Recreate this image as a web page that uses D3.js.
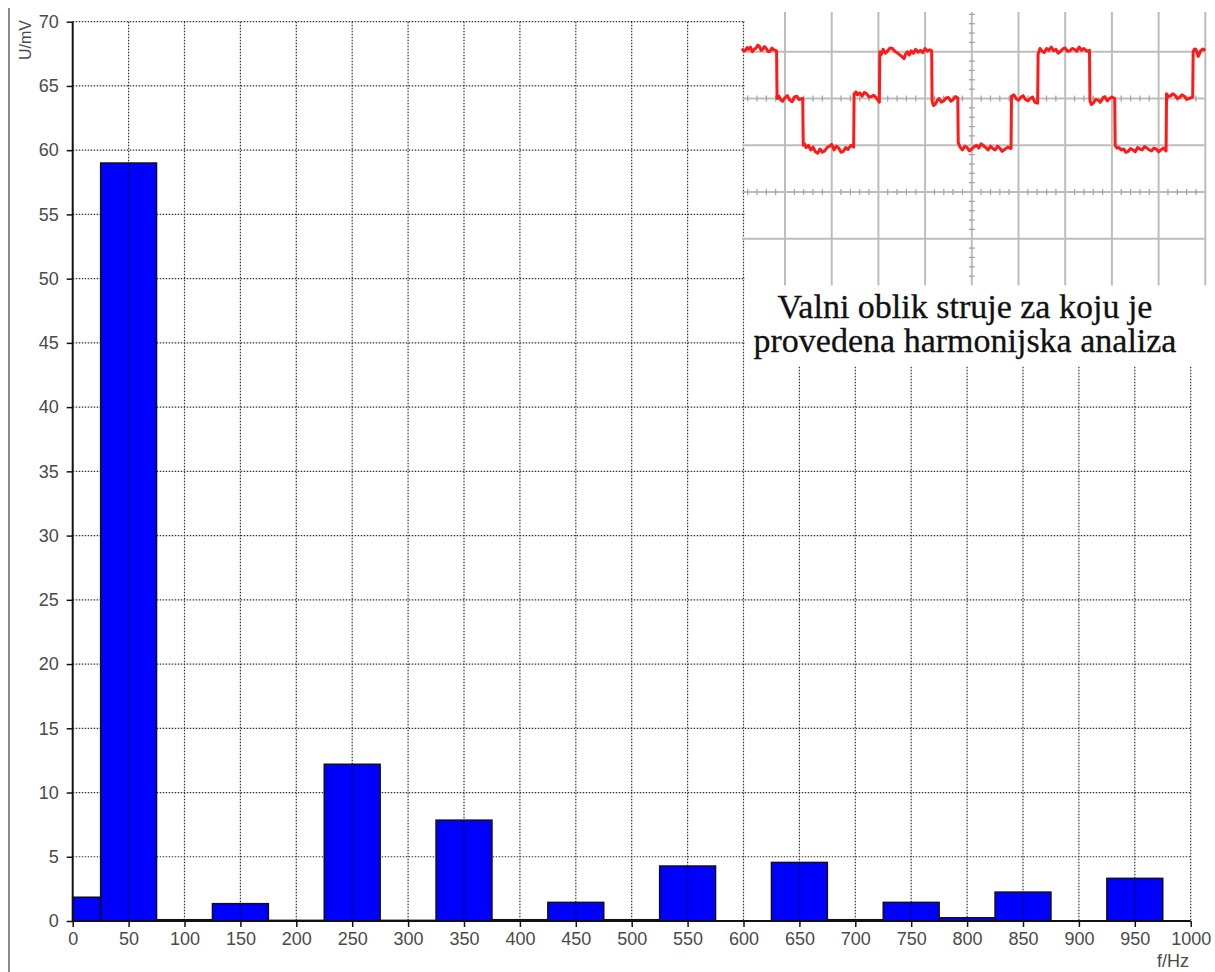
<!DOCTYPE html>
<html><head><meta charset="utf-8">
<script src="https://cdn.jsdelivr.net/npm/d3@7/dist/d3.min.js"></script>
<style>body{margin:0;background:#fff}svg{display:block}</style>
</head><body>
<svg id="chart" width="1215" height="972"></svg>
<script>
// ---- data ----
const freqs = [0,50,100,150,200,250,300,350,400,450,500,550,600,650,700,750,800,850,900,950,1000];
const amps  = [1.85,59.0,0.1,1.35,0.05,12.2,0.05,7.85,0.1,1.45,0.1,4.28,0,4.56,0.1,1.45,0.25,2.25,0,3.32,0];
const xTicks = [0,50,100,150,200,250,300,350,400,450,500,550,600,650,700,750,800,850,900,950,1000];
const yTicks = [0,5,10,15,20,25,30,35,40,45,50,55,60,65,70];
const xLabel = "f/Hz";
const yLabel = "U/mV";
const insetText = ["Valni oblik struje za koju je", "provedena harmonijska analiza"];
// oscilloscope trace readings: [time in divisions, level in divisions from top]
const scopeTrace = [
 [0.08,0.93],[0.12,0.99],[0.15,0.97],[0.19,0.91],[0.22,0.95],[0.26,0.9],[0.3,1.0],[0.34,0.95],[0.38,0.92],[0.42,0.86],[0.45,0.88],[0.49,0.97],[0.52,0.95],[0.56,0.89],[0.6,0.93],[0.64,1.0],[0.68,0.99],[0.72,0.92],[0.76,0.96],[0.82,0.98],
 [0.83,2.0],[0.87,1.95],[0.9,2.02],[0.95,2.06],[1.0,1.98],[1.05,1.94],[1.1,2.03],[1.15,2.07],[1.2,1.97],[1.25,1.95],[1.3,2.02],[1.38,2.0],
 [1.39,3.0],[1.42,2.97],[1.45,3.05],[1.5,3.0],[1.55,3.1],[1.6,3.04],[1.65,3.14],[1.7,3.17],[1.75,3.08],[1.8,3.15],[1.85,3.12],[1.9,3.05],[1.95,3.02],[2.0,2.98],[2.05,3.1],[2.1,3.02],[2.15,3.06],[2.2,3.15],[2.25,3.13],[2.3,3.05],[2.35,3.09],[2.41,3.0],[2.47,3.04],
 [2.48,1.9],[2.52,1.86],[2.55,1.92],[2.6,1.88],[2.65,1.95],[2.7,1.87],[2.75,1.9],[2.8,1.97],[2.85,1.96],[2.9,1.93],[2.95,1.98],[3.0,2.05],[3.02,2.08],
 [3.03,1.0],[3.06,1.06],[3.1,0.95],[3.15,1.03],[3.2,0.98],[3.25,0.92],[3.3,0.93],[3.35,0.99],[3.4,1.02],[3.45,1.06],[3.5,1.1],[3.55,1.15],[3.58,1.05],[3.62,1.0],[3.66,1.07],[3.7,0.98],[3.75,1.03],[3.8,0.95],[3.85,1.01],[3.9,0.97],[3.95,1.02],[4.0,0.93],[4.05,0.99],[4.1,0.96],[4.14,0.98],
 [4.15,2.05],[4.18,2.15],[4.22,2.12],[4.26,2.04],[4.3,2.0],[4.35,2.08],[4.4,2.05],[4.45,1.99],[4.5,1.98],[4.55,2.06],[4.6,2.02],[4.65,1.96],[4.7,1.99],
 [4.71,2.95],[4.75,3.04],[4.8,3.1],[4.85,3.02],[4.9,3.05],[4.95,3.12],[5.0,3.08],[5.05,3.03],[5.1,3.0],[5.15,3.06],[5.2,2.97],[5.25,3.01],[5.3,3.05],[5.35,3.1],[5.4,3.02],[5.45,3.07],[5.5,3.1],[5.55,3.02],[5.6,3.06],[5.65,3.13],[5.7,3.09],[5.77,3.04],[5.84,3.07],
 [5.85,1.95],[5.9,1.92],[5.95,2.0],[6.0,2.04],[6.05,1.97],[6.1,1.94],[6.15,2.02],[6.2,2.05],[6.25,2.0],[6.3,1.97],[6.35,2.08],[6.41,2.1],
 [6.42,1.05],[6.46,0.93],[6.5,0.98],[6.55,1.02],[6.6,0.93],[6.65,0.97],[6.7,0.9],[6.75,0.98],[6.8,0.95],[6.85,1.03],[6.9,0.99],[6.95,0.94],[7.0,0.92],[7.05,0.99],[7.1,0.98],[7.15,0.93],[7.2,0.95],[7.25,0.99],[7.3,0.9],[7.35,0.97],[7.4,0.93],[7.46,0.99],[7.52,0.97],
 [7.53,2.05],[7.56,2.13],[7.6,2.1],[7.65,2.02],[7.7,2.03],[7.75,2.08],[7.8,2.0],[7.85,1.96],[7.9,2.05],[7.95,2.0],[8.0,1.97],[8.06,2.0],
 [8.07,3.0],[8.11,3.06],[8.15,3.05],[8.2,3.1],[8.25,3.08],[8.3,3.15],[8.35,3.13],[8.4,3.07],[8.45,3.1],[8.5,3.14],[8.55,3.05],[8.6,3.08],[8.65,3.1],[8.7,3.03],[8.75,3.06],[8.8,3.1],[8.85,3.12],[8.9,3.06],[8.95,3.08],[9.0,3.14],[9.05,3.1],[9.1,3.06],[9.16,3.12],
 [9.17,1.9],[9.21,1.96],[9.25,1.95],[9.3,1.9],[9.35,1.93],[9.4,2.0],[9.45,1.98],[9.5,1.92],[9.55,1.95],[9.6,2.02],[9.65,2.0],[9.73,1.97],
 [9.74,1.0],[9.77,0.94],[9.8,0.95],[9.85,1.1],[9.9,0.98],[9.95,0.94],[10.0,0.97]
];
const scopeVLines = [1,2,3,4,5,6,7,8,9,10];
const scopeHLines = [1,2,3,4,5];

// ---- layout ----
const svg = d3.select("#chart");
const x = d3.scaleLinear().domain([0,1000]).range([72.7,1190.7]);
const y = d3.scaleLinear().domain([0,70]).range([921,21.7]);
const binW = 50;
const sans = "'Liberation Sans', Arial, sans-serif";

// left frame line
svg.append("line").attr("x1",9).attr("x2",9).attr("y1",8).attr("y2",972)
  .attr("stroke","#8a8a8a").attr("stroke-width",2);

// grid
const grid = svg.append("g");
grid.selectAll(".hg").data(yTicks.filter(d=>d>0)).join("line")
  .attr("x1",x(0)).attr("x2",x(1000)).attr("y1",d=>y(d)).attr("y2",d=>y(d))
  .attr("stroke","#333").attr("stroke-width",1.2).attr("stroke-dasharray","1.5,1.5");
grid.selectAll(".vg").data(xTicks.filter(d=>d>0)).join("line")
  .attr("x1",d=>x(d)).attr("x2",d=>x(d)).attr("y1",y(70)).attr("y2",y(0))
  .attr("stroke","#333").attr("stroke-width",1.2).attr("stroke-dasharray","1.5,1.5");

// bars
const bars = freqs.map((f,i)=>({f, v:amps[i], x0:Math.max(0,f-binW/2), x1:Math.min(1000,f+binW/2)}));
svg.append("g").selectAll("rect").data(bars.filter(d=>d.x1>d.x0)).join("rect")
  .attr("x",d=>x(d.x0)).attr("width",d=>x(d.x1)-x(d.x0))
  .attr("y",d=>y(d.v)).attr("height",d=>y(0)-y(d.v))
  .attr("fill","#0000ff").attr("stroke","#111").attr("stroke-width",1.5);
svg.append("g").selectAll("line").data(bars.filter(d=>d.v>1 && d.f>0)).join("line")
  .attr("x1",d=>x(d.f)).attr("x2",d=>x(d.f)).attr("y1",d=>y(d.v)).attr("y2",y(0))
  .attr("stroke","#0000a0").attr("stroke-width",1.5);

// axes
const axX = svg.append("g").attr("transform",`translate(0,${y(0)})`)
  .call(d3.axisBottom(x).tickValues(xTicks).tickSize(6).tickPadding(5).tickFormat(d3.format("d")));
const axY = svg.append("g").attr("transform",`translate(${x(0)},0)`)
  .call(d3.axisLeft(y).tickValues(yTicks).tickSize(6).tickPadding(8).tickFormat(d3.format("d")));
[axX,axY].forEach(a=>{
  a.select(".domain").attr("stroke","#111").attr("stroke-width",2);
  a.selectAll(".tick line").attr("stroke","#111").attr("stroke-width",1.5);
  a.selectAll("text").attr("font-family",sans)
    .attr("font-size",18).attr("fill","#4a4a4a");
});
axX.select(".domain").attr("d",`M${x(0)},0H${x(1000)}`);
axY.select(".domain").attr("d",`M0,${y(0)}V${y(70)}`);

svg.append("text").attr("x",1189).attr("y",967).attr("text-anchor","end")
  .attr("font-family",sans).attr("font-size",18).attr("fill","#4a4a4a")
  .text(xLabel);
svg.append("text").attr("transform","translate(31,20) rotate(-90)").attr("text-anchor","end")
  .attr("font-family",sans).attr("font-size",16).attr("fill","#4a4a4a")
  .text(yLabel);

// ---- inset ----
const inset = svg.append("g");
inset.append("rect").attr("x",745).attr("y",0).attr("width",470).attr("height",366).attr("fill","#fff");
const sx = d3.scaleLinear().domain([0,10]).range([738.3,1205.3]);
const sy = d3.scaleLinear().domain([0,6]).range([5,285.5]);
const gc = "#bdbdbd";
inset.selectAll(".sv").data(scopeVLines).join("line")
  .attr("x1",d=>sx(d)).attr("x2",d=>sx(d)).attr("y1",sy(0.15)).attr("y2",sy(6))
  .attr("stroke",gc).attr("stroke-width",2);
inset.selectAll(".sh").data(scopeHLines).join("line")
  .attr("x1",sx(0.08)).attr("x2",sx(10.02)).attr("y1",d=>sy(d)).attr("y2",d=>sy(d))
  .attr("stroke",gc).attr("stroke-width",2);
// minor ticks on axis lines
const minorT = d3.range(1,50).map(i=>i/5).filter(t=>t%1!==0);
[2,4].forEach(v=>{
  inset.selectAll(null).data(minorT).join("line")
    .attr("x1",d=>sx(d)).attr("x2",d=>sx(d)).attr("y1",sy(v)-3).attr("y2",sy(v)+3)
    .attr("stroke","#a0a0a0").attr("stroke-width",1.2);
});
const minorV = d3.range(1,30).map(i=>i/5).filter(v=>v%1!==0);
inset.selectAll(null).data(minorV).join("line")
  .attr("x1",sx(5)-3).attr("x2",sx(5)+3).attr("y1",d=>sy(d)).attr("y2",d=>sy(d))
  .attr("stroke","#a0a0a0").attr("stroke-width",1.2);

inset.append("path").datum(scopeTrace)
  .attr("d",d3.line().x(d=>sx(d[0])).y(d=>sy(d[1])))
  .attr("fill","none").attr("stroke","#ff1a1a").attr("stroke-width",3).attr("stroke-linejoin","round");

inset.selectAll(".it").data(insetText).join("text")
  .attr("x",965).attr("y",(d,i)=>318+i*34).attr("text-anchor","middle")
  .attr("font-family","'Liberation Serif', 'Times New Roman', serif").attr("font-size",34).attr("fill","#111")
  .attr("stroke","#111").attr("stroke-width",0.3)
  .text(d=>d);
</script>
</body></html>
